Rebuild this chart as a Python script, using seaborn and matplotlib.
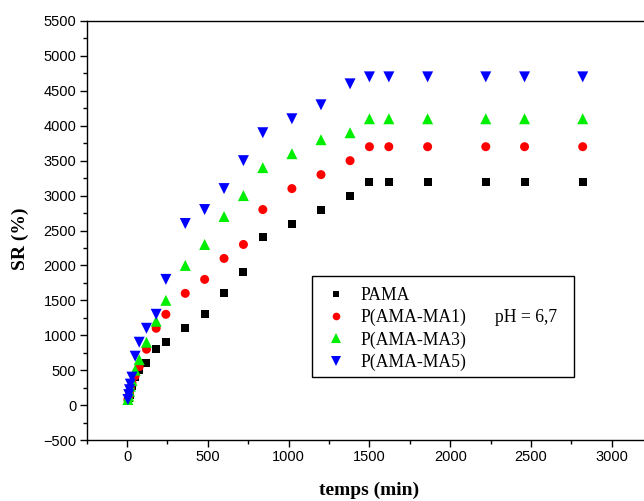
import matplotlib
matplotlib.use("Agg")
import matplotlib.pyplot as plt
from matplotlib.patches import Rectangle
from matplotlib.ticker import MultipleLocator
import seaborn as sns
import pandas as pd

# ---------------- data ----------------
temps = [5, 10, 15, 20, 30, 50, 75, 120, 180, 240, 360, 480, 600, 720, 840,
         1020, 1200, 1380, 1500, 1620, 1860, 2220, 2460, 2820]
sr_pama = [70, 100, 150, 200, 280, 400, 500, 600, 800, 900, 1100, 1300, 1600,
           1900, 2400, 2600, 2800, 3000, 3200, 3200, 3200, 3200, 3200, 3200]
sr_ma1 = [80, 120, 180, 240, 320, 420, 550, 800, 1100, 1300, 1600, 1800, 2100,
          2300, 2800, 3100, 3300, 3500, 3700, 3700, 3700, 3700, 3700, 3700]
sr_ma3 = [80, 130, 200, 270, 350, 500, 650, 900, 1200, 1500, 2000, 2300, 2700,
          3000, 3400, 3600, 3800, 3900, 4100, 4100, 4100, 4100, 4100, 4100]
sr_ma5 = [80, 150, 220, 300, 400, 700, 900, 1100, 1300, 1800, 2600, 2800, 3100,
          3500, 3900, 4100, 4300, 4600, 4700, 4700, 4700, 4700, 4700, 4700]
series_names = ["PAMA", "P(AMA-MA1)", "P(AMA-MA3)", "P(AMA-MA5)"]
series_values = [sr_pama, sr_ma1, sr_ma3, sr_ma5]
colors = ["#000000", "#ff0000", "#00ee00", "#0000ff"]
markers = ["s", "o", "^", "v"]
marker_px = [8, 9, 11, 11]
x_ticks = [0, 500, 1000, 1500, 2000, 2500, 3000]
y_ticks = list(range(-500, 5501, 500))

rows = []
for name, vals in zip(series_names, series_values):
    for t, v in zip(temps, vals):
        rows.append({"temps": t, "SR": v, "serie": name})
df = pd.DataFrame(rows)

# ---------------- figure ----------------
sns.set_style("white")
W, H = 644, 501
fig = plt.figure(figsize=(W / 100, H / 100), dpi=100)
ax_left, ax_right, ax_top, ax_bottom = 86.7, 652.2, 21.0, 440.0
ax = fig.add_axes([ax_left / W, (H - ax_bottom) / H,
                   (ax_right - ax_left) / W, (ax_bottom - ax_top) / H])

for name, col, mk, px in zip(series_names, colors, markers, marker_px):
    sub = df[df["serie"] == name]
    ms_pt = px * 72 / 100
    sns.scatterplot(data=sub, x="temps", y="SR", ax=ax, color=col, marker=mk,
                    s=ms_pt ** 2, edgecolor="none", linewidth=0, label=name,
                    legend=False, zorder=3)

ax.set_xlim(-250, 3250)
ax.set_ylim(-500, 5500)
ax.set_xticks(x_ticks)
ax.set_yticks(y_ticks)
ax.xaxis.set_minor_locator(MultipleLocator(250))
ax.yaxis.set_minor_locator(MultipleLocator(250))

for sp in ["left", "bottom", "top", "right"]:
    ax.spines[sp].set_color("black")
    ax.spines[sp].set_linewidth(1.0)

ax.tick_params(axis="both", which="major", direction="out", length=5, width=1.0,
               color="black", labelcolor="black", labelsize=10.5, pad=2.5)
ax.tick_params(axis="both", which="minor", direction="out", length=3, width=1.0,
               color="black")
ax.tick_params(bottom=True, left=True, top=False, right=False, which="both")
for lab in ax.get_xticklabels() + ax.get_yticklabels():
    lab.set_fontfamily("Liberation Sans")

ax.set_xlabel("temps (min)", fontfamily="Liberation Serif", fontweight="bold",
              fontsize=14, color="black")
ax.set_ylabel("SR (%)", fontfamily="Liberation Serif", fontweight="bold",
              fontsize=14, color="black")
ax.xaxis.label.set_va("center")
ax.yaxis.label.set_va("center")
ax.xaxis.set_label_coords(0.5, (ax_bottom - 490) / (ax_bottom - ax_top))
ax.yaxis.set_label_coords((20 - ax_left) / (ax_right - ax_left),
                          (ax_bottom - 239) / (ax_bottom - ax_top))

# legend
handles = []
for col, mk, px in zip(colors, markers, marker_px):
    handles.append(plt.Line2D([], [], linestyle="none", marker=mk, color=col,
                              markeredgewidth=0, markersize=px * 72 / 100 * 0.85))
leg = fig.legend(handles, series_names, loc="upper left",
                 bbox_to_anchor=(327 / W, 1 - 287 / H), frameon=False,
                 prop={"family": "Liberation Serif", "size": 12.7},
                 handlelength=1.0, handletextpad=0.9, labelspacing=0.28,
                 borderpad=0.0, borderaxespad=0.0, labelcolor="black")
fig.text(495 / W, 1 - 318 / H, "pH = 6,7", fontfamily="Liberation Serif",
         fontsize=12.7, va="center", ha="left", color="black")
fig.patches.append(Rectangle((312 / W, 1 - 376.5 / H), (574 - 312) / W,
                             (376.5 - 275.5) / H, transform=fig.transFigure,
                             fill=False, edgecolor="black", linewidth=1.0,
                             zorder=5))

fig.savefig("out.png", dpi=100)
